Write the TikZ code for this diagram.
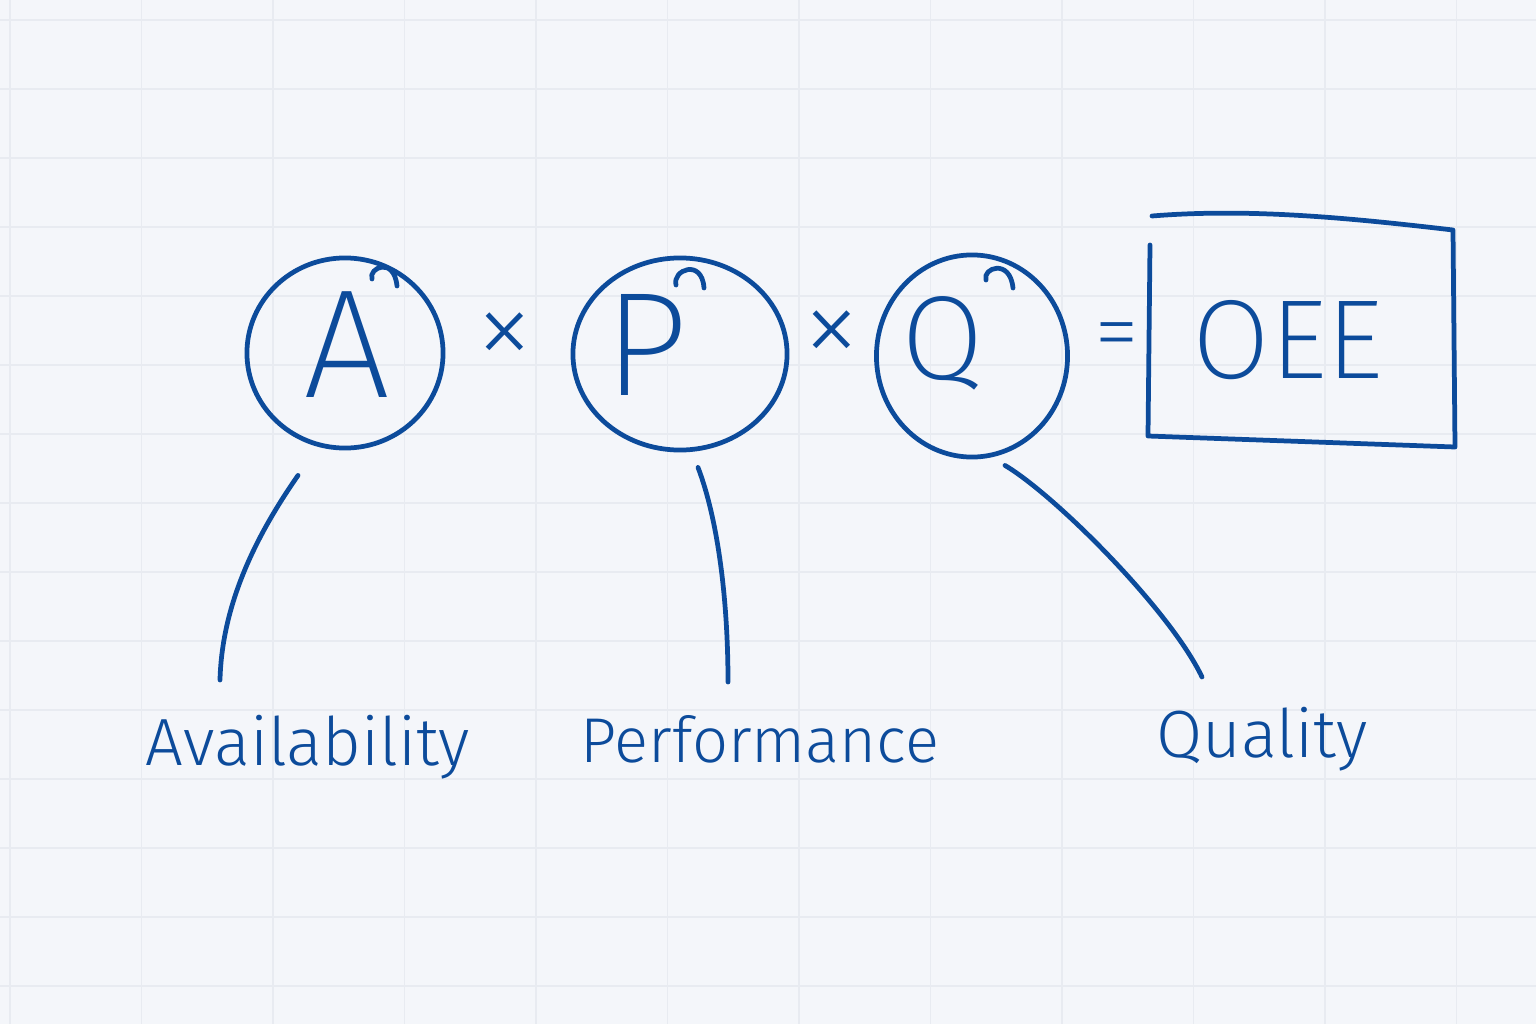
\documentclass[tikz,border=0pt]{standalone}
\usepackage{fontspec}
\setmainfont{Fira Sans Light}
\newfontfamily\thinhand{Fira Sans ExtraLight}
\usetikzlibrary{shapes.geometric, positioning, calc}
\definecolor{ink}{HTML}{0C4B9B}
\definecolor{paper}{HTML}{F4F6FA}
\definecolor{gridln}{HTML}{E8EBF1}
\tikzset{
  % tratto di penna
  pen/.style={draw=ink, line width=1.35pt, line cap=round, line join=round},
  % lettera cerchiata
  ring/.style={ellipse, pen, inner sep=0pt},
  letter/.style={text=ink, font=\thinhand\fontsize{44}{44}\selectfont},
  % operatori e risultato
  op/.style={text=ink, font=\thinhand\fontsize{34}{34}\selectfont},
  result/.style={text=ink, font=\thinhand\fontsize{32}{32}\selectfont},
  % etichette in basso
  caption/.style={text=ink, font=\fontsize{19}{19}\selectfont, anchor=base},
}

\begin{document}
\begin{tikzpicture}[x=0.01cm, y=-0.01cm]
  % foglio a quadretti
  \fill[paper] (0,0) rectangle (1536,1024);
  \useasboundingbox (0,0) rectangle (1536,1024);
  \foreach \gx in {10,141.5,...,1536} \draw[gridln, line width=0.5pt] (\gx,0) -- (\gx,1024);
  \foreach \gy in {20,89,...,1024} \draw[gridln, line width=0.5pt] (0,\gy) -- (1536,\gy);
  % cerchi con le lettere
  \node[ring, minimum width=1.96cm, minimum height=1.90cm] (cA) at (345,353) {};
  \node[ring, minimum width=2.14cm, minimum height=1.92cm] (cP) at (680,354) {};
  \node[ring, minimum width=1.91cm, minimum height=2.02cm] (cQ) at (972,356) {};
  \node[letter] (lA) at (347,345) {A};
  \node[letter, font=\thinhand\fontsize{42}{42}\selectfont] (lP) at (646,345) {P};
  \node[letter, font=\thinhand\fontsize{34}{34}\selectfont] (lQ) at (943,343) {Q};
  % riccioli dove il tratto si chiude
  \draw[pen] (372,279) .. controls (368,268) and (394,256) .. (397,286);
  \draw[pen] (676,285) .. controls (672,270) and (702,258) .. (704,288);
  \draw[pen] (986,280) .. controls (982,268) and (1010,258) .. (1013,288);
  % operatori
  \node[op] (times1) at (505,341) {×};
  \node[op] (times2) at (832,339) {×};
  \node[op, font=\thinhand\fontsize{26}{26}\selectfont] (equals) at (1117,343) {=};
  % risultato
  \node[result] (oee) at (1288,340) {OEE};
  \draw[pen] (1150,245) -- (1148,436) -- (1455,447) -- (1453,230)
    .. controls (1350,218) and (1250,208) .. (1152,216);
  % etichette
  \node[caption] (avail) at (308,765) {Availability};
  \node[caption, font=\fontsize{18}{18}\selectfont] (perf) at (760,762) {Performance};
  \node[caption] (qual) at (1262,757) {Quality};
  % linee di richiamo
  \coordinate (aEnd) at (220,680);
  \coordinate (pEnd) at (728,682);
  \coordinate (qEnd) at (1202,677);
  \draw[pen] ([shift={(-47,25)}]cA.south) .. controls (260,530) and (222,600) .. (aEnd);
  \draw[pen] ([shift={(18,15)}]cP.south) .. controls (718,520) and (728,600) .. (pEnd);
  \draw[pen] ([shift={(33,6)}]cQ.south) .. controls (1055,495) and (1170,610) .. (qEnd);
\end{tikzpicture}
\end{document}
